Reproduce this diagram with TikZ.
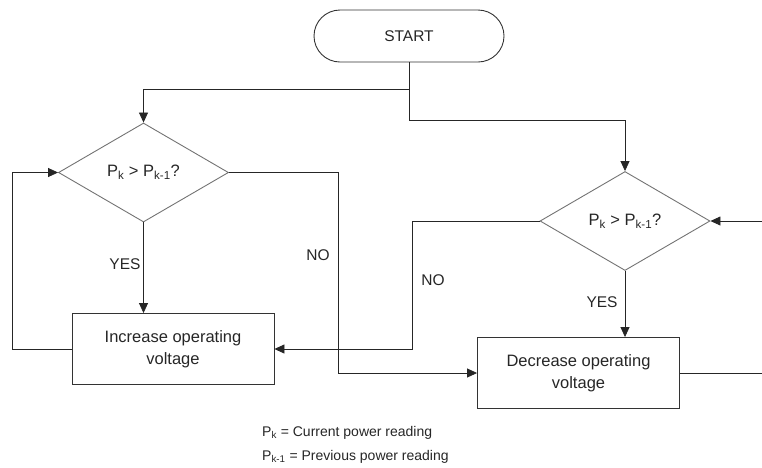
\documentclass[tikz,border=0pt]{standalone}
\usepackage{fontspec}
\setmainfont{Liberation Sans}
\usetikzlibrary{shapes.geometric,arrows.meta,calc}
\begin{document}
\begin{tikzpicture}[x=1pt,y=-1pt,
  txt/.style={font=\fontsize{15.5}{21}\selectfont, text=black!85},
  bigtxt/.style={font=\fontsize{16.5}{22}\selectfont, text=black!85},
  startbox/.style={draw=black!80, line width=0.9pt, rounded corners=26pt, minimum width=190pt, minimum height=52pt, inner sep=0pt, txt},
  decision/.style={diamond, draw=black!55, line width=0.9pt, minimum width=170pt, minimum height=99pt, inner sep=0pt, bigtxt},
  procbox/.style={draw=black!80, line width=0.9pt, minimum width=202pt, minimum height=71pt, inner sep=0pt, align=center, bigtxt},
  conn/.style={draw=black!85, line width=0.8pt},
  arr/.style={conn, -{Triangle[length=10pt,width=9pt]}},
  lbl/.style={txt},
  legend/.style={font=\fontsize{14}{18}\selectfont, text=black!85, anchor=west, inner sep=0pt}
]
\useasboundingbox (0,0) rectangle (762,467);

\node[startbox] (start) at (409,36) {START};
\node[decision] (d1) at (143.5,172.5) {P\textsubscript{k} > P\textsubscript{k-1}?};
\node[decision] (d2) at (625,221) {P\textsubscript{k} > P\textsubscript{k-1}?};
\node[procbox] (box1) at (173,349) {Increase operating\\voltage};
\node[procbox] (box2) at (578.5,373) {Decrease operating\\voltage};

\coordinate (j1) at (409,89);
\coordinate (j2) at (409,120);
\coordinate (re1) at (762,373);
\coordinate (re2) at (762,221);

% start branches
\draw[conn] (start.south) -- (j2);
\draw[arr] (j1) -| (d1.north);
\draw[arr] (j2) -| (d2.north);

% decision 1
\draw[arr] (d1.south) -- (d1.south |- box1.north);
\draw[arr] (d1.east) -- ++(109,0) |- (box2.west);
\draw[arr] (box1.west) -- ++(-59,0) |- (d1.west);

% decision 2
\draw[arr] (d2.south) -- (d2.south |- box2.north);
\draw[arr] (d2.west) -- ++(-127,0) |- (box1.east);
\draw[conn] (box2.east) -- (re1);
\draw[arr] (re2) -- (d2.east);

% labels
\node[lbl] (yes1) at (125,264) {YES};
\node[lbl] (no1) at (318,255) {NO};
\node[lbl] (no2) at (433,280) {NO};
\node[lbl] (yes2) at (602,302) {YES};

% legend
\node[legend] (leg1) at (262,433) {P\textsubscript{k} = Current power reading};
\node[legend] (leg2) at (262,457) {P\textsubscript{k-1} = Previous power reading};
\end{tikzpicture}
\end{document}
